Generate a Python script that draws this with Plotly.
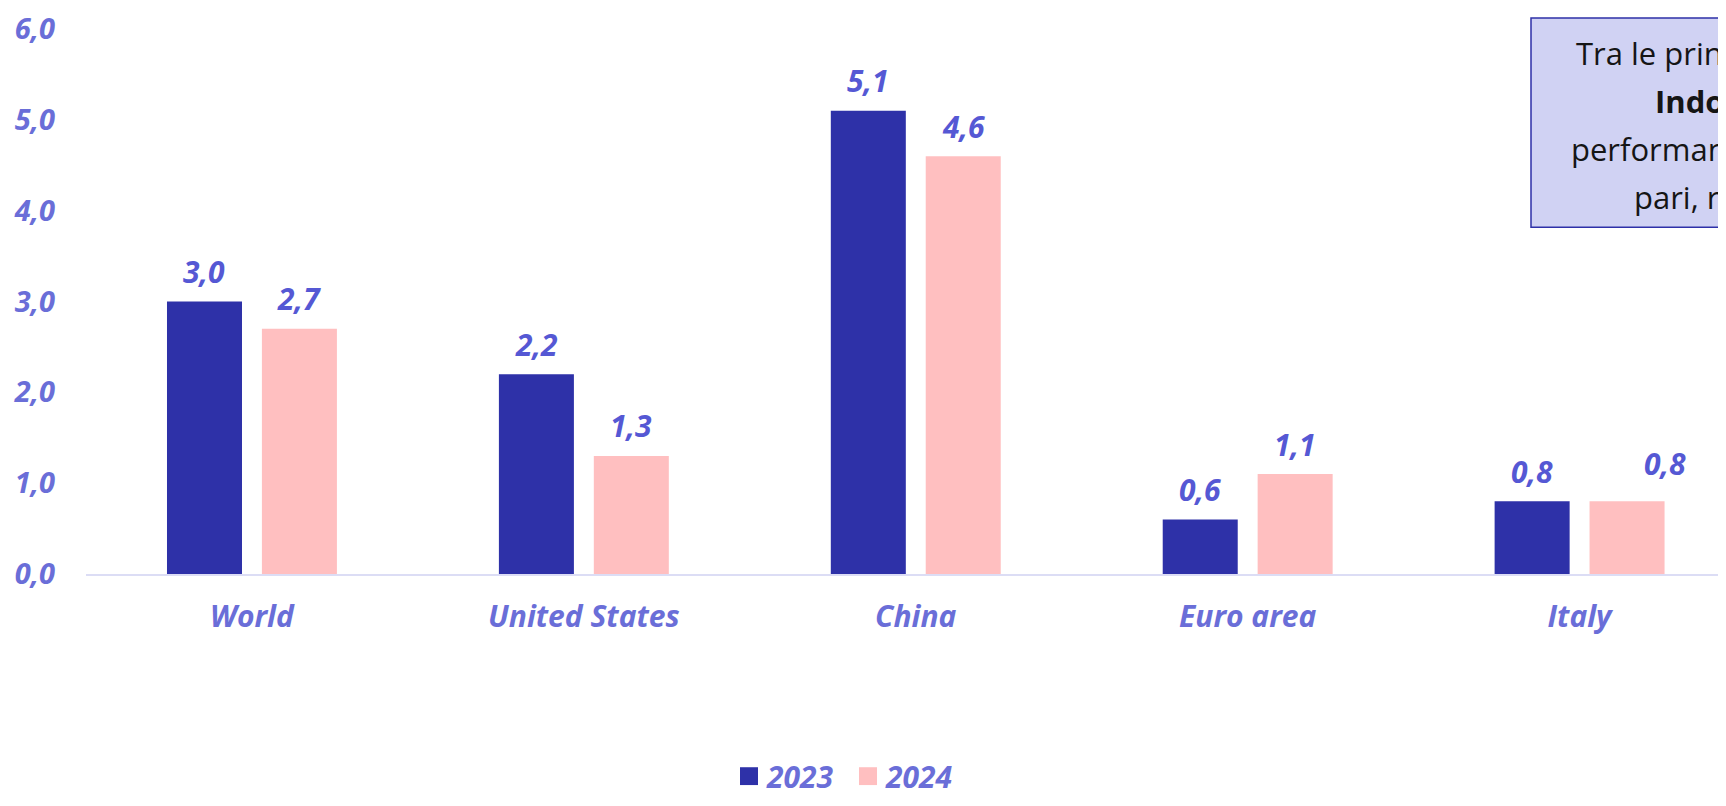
import plotly.graph_objects as go

categories = ["World", "United States", "China", "Euro area", "Italy"]
years = ["2023", "2024"]
values_2023 = [3.0, 2.2, 5.1, 0.6, 0.8]
values_2024 = [2.7, 1.3, 4.6, 1.1, 0.8]
y_ticks = [0, 1, 2, 3, 4, 5, 6]

box_lines = [
    "Tra le principali economie emergenti,",
    "<b>Indonesia</b> e <b>India</b> registrano",
    "performance di crescita elevate,",
    "pari, rispettivamente, al 5,0% e al 7,0%",
]

FONT = "Open Sans"
BLUE = "#2E31A8"
PINK = "#FFBFC0"
LABEL = "#5558D4"
TICK = "#6A6ED8"

# page pixels -> paper coords (plot area starts at x=86, baseline at y=574, 1632x550)
def px(x):
    return (x - 86) / 1632

def py(y):
    return (574 - y) / 550

# bar geometry (category units)
bar_w = 0.226
offsets = [-0.256, 0.030]
colors = [BLUE, PINK]
series = [values_2023, values_2024]

fig = go.Figure()
for name, vals, off, col in zip(years, series, offsets, colors):
    fig.add_trace(go.Bar(x=categories, y=vals, width=bar_w, offset=off, name=name,
                         marker=dict(color=col, line_width=0),
                         showlegend=False, hoverinfo="skip"))

# value labels above bars
nudge = {(1, 4): (38, 8)}
for s, (vals, off) in enumerate(zip(series, offsets)):
    for i, v in enumerate(vals):
        dx, dy = nudge.get((s, i), (0, 0))
        fig.add_annotation(x=i + off + bar_w / 2, y=v, text=f"{v:.1f}".replace(".", ","),
                           showarrow=False, yanchor="middle", yshift=30 + dy, xshift=dx,
                           font=dict(family=FONT, size=30, color=LABEL, weight="bold", style="italic"))

# legend drawn by hand: the original sits on the very bottom edge
leg_x = [740, 859]
leg_y = 778
for name, col, lx in zip(years, colors, leg_x):
    fig.add_shape(type="rect", xref="paper", yref="paper", x0=px(lx), x1=px(lx + 18),
                  y0=py(leg_y + 9), y1=py(leg_y - 9), fillcolor=col, line_width=0)
    fig.add_annotation(xref="paper", yref="paper", x=px(lx + 25), y=py(leg_y), text=name,
                       xanchor="left", yanchor="middle", showarrow=False, borderpad=0,
                       font=dict(family=FONT, size=30, color=TICK, weight="bold", style="italic"))

# text box, cut off at the right edge
fig.add_shape(type="rect", xref="paper", yref="paper", x0=px(1531), x1=1.2, y0=py(224), y1=py(13),
              fillcolor="#D0D2F3", line=dict(color=BLUE, width=1.5), layer="above")
line_x = [1574, 1653, 1569, 1632]
line_y = [48, 97, 145, 194]
for txt, lx, ly in zip(box_lines, line_x, line_y):
    fig.add_annotation(xref="paper", yref="paper", x=px(lx), y=py(ly),
                       xanchor="left", yanchor="middle", text=txt, showarrow=False,
                       font=dict(family=FONT, size=31, color="#151515"))

fig.update_layout(
    width=1710, height=790,
    margin=dict(l=78, r=0, t=16, b=224),
    plot_bgcolor="white", paper_bgcolor="white",
    barmode="overlay",
    separators=",.",
    showlegend=False,
)
fig.update_xaxes(range=[-0.5, 4.417], showgrid=False, showline=True, linecolor="#DCDDF5",
                 linewidth=2, ticks="", ticklabelstandoff=15,
                 tickfont=dict(family=FONT, size=30, color=TICK, weight="bold", style="italic"))
fig.update_yaxes(range=[0, 6], tickvals=y_ticks, tickformat=".1f", showgrid=False,
                 zeroline=False, showline=False, ticks="", ticklabelstandoff=30,
                 ticklabeloverflow="allow",
                 tickfont=dict(family=FONT, size=29, color=TICK, weight="bold", style="italic"))

fig.write_html("out.html")
